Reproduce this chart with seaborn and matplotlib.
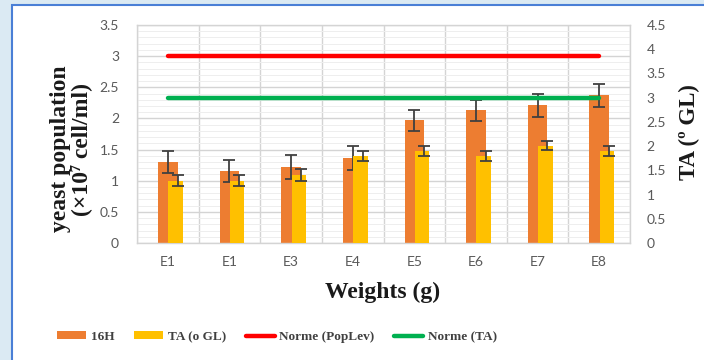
import numpy as np
import matplotlib
matplotlib.use("Agg")
import matplotlib.pyplot as plt
import seaborn as sns
from matplotlib.patches import Patch, Rectangle
from matplotlib.lines import Line2D

# ---- data ----
categories = ["E1", "E1", "E3", "E4", "E5", "E6", "E7", "E8"]
pop_16h = [1.30, 1.16, 1.22, 1.36, 1.97, 2.13, 2.21, 2.37]
pop_16h_err = [0.18, 0.18, 0.19, 0.19, 0.17, 0.17, 0.18, 0.18]
ta_values = [1.29, 1.29, 1.40, 1.80, 1.90, 1.80, 2.01, 1.90]
ta_err = [0.11, 0.12, 0.12, 0.10, 0.10, 0.10, 0.10, 0.11]
norme_poplev = [3.0] * 8
norme_ta = [3.0] * 8
left_ticks = [0, 0.5, 1, 1.5, 2, 2.5, 3, 3.5]
right_ticks = [0, 0.5, 1, 1.5, 2, 2.5, 3, 3.5, 4, 4.5]

c_orange = "#ED7D31"
c_yellow = "#FFC000"
c_red = "#FF0000"
c_green = "#00B050"
c_err = "#404040"
c_tick = "#595959"

sns.set_theme(style="white")
plt.rcParams["font.family"] = ["Lato", "DejaVu Sans"]
serif = ["Liberation Serif", "DejaVu Serif"]

fig = plt.figure(figsize=(7.04, 3.6), dpi=100)
fig.patch.set_facecolor("#dbeaf3")
# white panel with blue border
panel = Rectangle((12 / 704, -0.1), 1.0, 1.1 - 5 / 360,
                  transform=fig.transFigure, facecolor="white",
                  edgecolor="#4a7fd6", linewidth=1.5, zorder=-10)
fig.patches.append(panel)

ax = fig.add_axes([137 / 704, 1 - 243 / 360, (630 - 137) / 704, (243 - 25) / 360])
ax.set_facecolor("none")
x = np.arange(len(categories))

# grid
ax.set_xlim(-0.5, len(categories) - 0.5)
ax.set_ylim(0, 3.5)
ax.set_yticks(left_ticks)
ax.set_yticks(np.arange(0, 3.5, 0.1), minor=True)
ax.grid(True, which="major", axis="y", color="#d4d4d4", linewidth=1.0)
ax.grid(True, which="minor", axis="y", color="#eeeeee", linewidth=0.7)
for b in np.arange(-0.5, len(categories), 1.0):
    ax.axvline(b, color="#d4d4d4", linewidth=1.0, zorder=0.5)
ax.set_axisbelow(True)
for s in ax.spines.values():
    s.set_color("#d4d4d4")
    s.set_linewidth(1.0)

# orange bars (left axis)
ax.bar(x, pop_16h, width=0.315, color=c_orange, linewidth=0, zorder=2)
ax.errorbar(x, pop_16h, yerr=pop_16h_err, fmt="none", ecolor=c_err,
            elinewidth=1.3, capsize=4, capthick=1.3, zorder=3)
sns.lineplot(x=x, y=norme_poplev, ax=ax, color=c_red, linewidth=3.2, zorder=4)

ax.set_xticks(x)
ax.set_xticklabels(categories)
ax.tick_params(axis="x", length=0, pad=9, labelsize=10, labelcolor=c_tick)
ax.tick_params(axis="y", which="both", length=0, pad=13, labelsize=10, labelcolor=c_tick)
ax.set_yticklabels([f"{t:g}" for t in left_ticks])

# right axis
ax2 = ax.twinx()
ax2.set_ylim(0, 4.5)
ax2.set_yticks(right_ticks)
ax2.set_yticklabels([f"{t:g}" for t in right_ticks])
ax2.tick_params(axis="y", which="both", length=0, pad=12, labelsize=10, labelcolor=c_tick)
for s in ax2.spines.values():
    s.set_visible(False)
ax2.bar(x + 0.125, ta_values, width=0.235, color=c_yellow, linewidth=0, zorder=2)
ax2.errorbar(x + 0.16, ta_values, yerr=ta_err, fmt="none", ecolor=c_err,
             elinewidth=1.3, capsize=4, capthick=1.3, zorder=3)
sns.lineplot(x=x, y=norme_ta, ax=ax2, color=c_green, linewidth=3.2, zorder=4)
ax2.set_xlim(-0.5, len(categories) - 0.5)
ax2.set_ylabel("")
ax.set_ylabel("")

# labels
fig.text(71 / 704, 1 - 149 / 360, "yeast population\n(×10⁷ cell/ml)",
         rotation=90, ha="center", va="center", fontsize=17,
         fontweight="bold", family=serif, linespacing=0.95, color="#1a1a1a")
fig.text(689 / 704, 1 - 132 / 360, "TA (º GL)", rotation=90, ha="center",
         va="center", fontsize=16.5, fontweight="bold", family=serif, color="#1a1a1a")
fig.text(383 / 704, 1 - 292 / 360, "Weights (g)", ha="center", va="center",
         fontsize=17, fontweight="bold", family=serif, color="#1a1a1a")

handles = [Patch(color=c_orange, linewidth=0), Patch(color=c_yellow, linewidth=0),
           Line2D([], [], color=c_red, linewidth=3.2),
           Line2D([], [], color=c_green, linewidth=3.2)]
labels = ["16H", "TA (o GL)", "Norme (PopLev)", "Norme (TA)"]
leg = fig.legend(handles, labels, loc="center", bbox_to_anchor=(277 / 704, 1 - 337 / 360),
                 ncol=4, frameon=False, handlelength=2.2, handleheight=0.55,
                 columnspacing=1.5, handletextpad=0.35,
                 prop={"family": serif, "weight": "bold", "size": 9.5})
for t in leg.get_texts():
    t.set_color("#404040")

fig.savefig("out.png", dpi=100)
